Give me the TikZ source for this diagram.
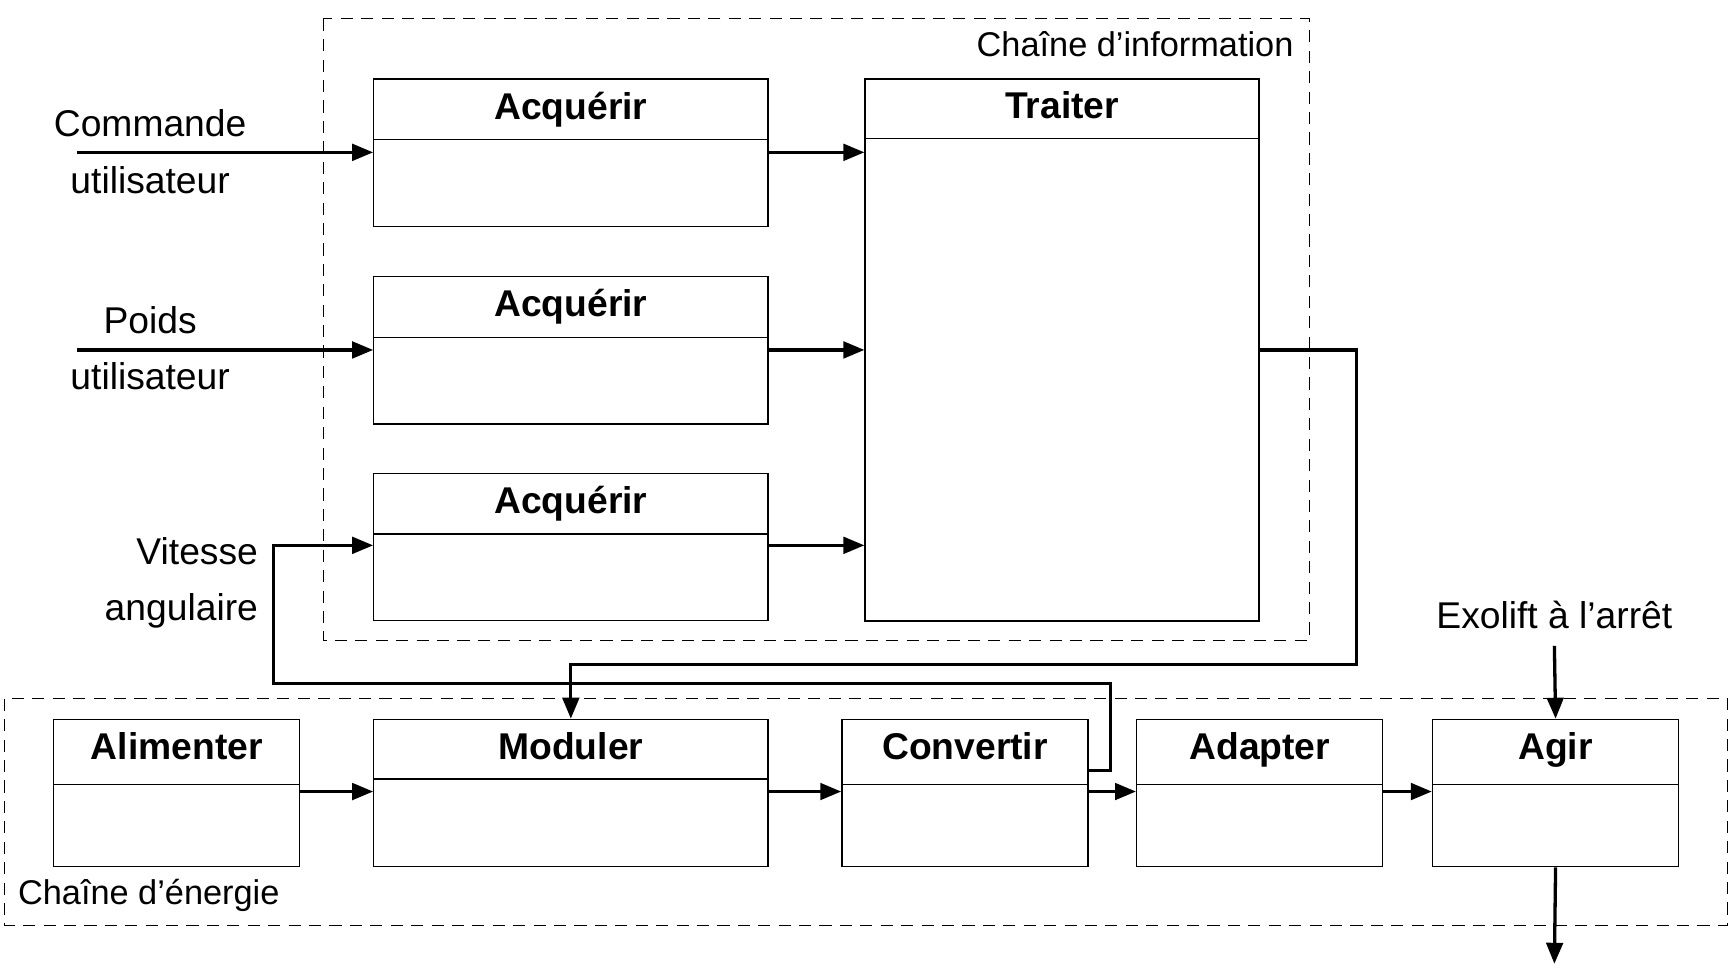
\documentclass[tikz,border=0pt]{standalone}
\usepackage{fontspec}
\setmainfont{Liberation Sans}
\usetikzlibrary{arrows.meta,positioning}

\begin{document}
\begin{tikzpicture}[
    x=0.02cm, y=-0.02cm,
    font=\fontsize{19.2}{23}\selectfont,
    fonction/.style={rectangle, draw=black, line width=0.7pt, inner sep=0pt, anchor=north west, minimum height=2.67cm},
    large/.style={minimum width=7.14cm},
    etroit/.style={minimum width=4.46cm},
    entete/.style={path picture={\draw[line width=0.7pt] ([yshift=-#1]path picture bounding box.north west) -- ([yshift=-#1]path picture bounding box.north east);}},
    titre/.style={font=\fontsize{19.2}{23}\selectfont\bfseries, anchor=base},
    texte/.style={anchor=base, inner sep=0pt},
    chaine/.style={draw=black, dash pattern=on 0.22cm off 0.15cm, line width=0.5pt},
    legende/.style={font=\fontsize{17.7}{21}\selectfont, inner sep=0pt},
    arrow/.style={line width=1.7pt, -{Triangle[length=0.38cm, width=0.3cm]}}
]
\useasboundingbox (0,0) rectangle (1568,876);

% Chains
\draw[chaine] (293,17) rectangle (1186,580);
\draw[chaine] (4,633) rectangle (1565,838);
\node[legende, anchor=base east] (ch-info) at (1172,51) {Chaîne d’information};
\node[legende, anchor=base west] (ch-energie) at (16,819) {Chaîne d’énergie};

% Nodes
\node[fonction, large, entete=1.1cm] (acq1) at (338,71) {};
\node[fonction, large, entete=1.1cm] (acq2) at (338,250) {};
\node[fonction, large, entete=1.1cm] (acq3) at (338,428) {};
\node[fonction, large, entete=1.08cm, minimum height=9.82cm] (traiter) at (783,71) {};
\node[fonction, etroit, entete=1.18cm] (alim) at (48,651) {};
\node[fonction, large, entete=1.08cm] (moduler) at (338,651) {};
\node[fonction, etroit, entete=1.18cm] (convertir) at (762,651) {};
\node[fonction, etroit, entete=1.18cm] (adapter) at (1029,651) {};
\node[fonction, etroit, entete=1.18cm] (agir) at (1297,651) {};

\node[titre] (t-acq1) at ([yshift=-0.74cm]acq1.north) {Acquérir};
\node[titre] (t-acq2) at ([yshift=-0.74cm]acq2.north) {Acquérir};
\node[titre] (t-acq3) at ([yshift=-0.74cm]acq3.north) {Acquérir};
\node[titre] (t-traiter) at ([yshift=-0.72cm]traiter.north) {Traiter};
\node[titre] (t-alim) at ([yshift=-0.74cm]alim.north) {Alimenter};
\node[titre] (t-moduler) at ([yshift=-0.74cm]moduler.north) {Moduler};
\node[titre] (t-convertir) at ([yshift=-0.74cm]convertir.north) {Convertir};
\node[titre] (t-adapter) at ([yshift=-0.74cm]adapter.north) {Adapter};
\node[titre] (t-agir) at ([yshift=-0.74cm]agir.north) {Agir};

% Inputs
\node[texte] (commande) at (136,124) {Commande};
\node[texte] (util1) at (136,175) {utilisateur};
\node[texte] (poids) at (136,302) {Poids};
\node[texte] (util2) at (136,353) {utilisateur};
\node[texte, anchor=base east] (vitesse) at (234,511) {Vitesse};
\node[texte, anchor=base east] (angulaire) at (234,562) {angulaire};
\node[texte] (exolift) at (1408,569) {Exolift à l’arrêt};

\coordinate (in1) at (70,138);
\coordinate (in2) at (70,317);
\coordinate (in3) at ([yshift=-1.32cm]acq3.north west);
\coordinate (sortie) at (1408,873);

% Arrows
\draw[arrow] (in1) -- (in1 -| acq1.west);
\draw[arrow] (in2) -- (in2 -| acq2.west);
\draw[arrow] ([yshift=-1.34cm]acq1.north east) -- ([yshift=-1.34cm]acq1.north east -| traiter.west);
\draw[arrow] ([yshift=-1.34cm]acq2.north east) -- ([yshift=-1.34cm]acq2.north east -| traiter.west);
\draw[arrow] ([yshift=-1.32cm]acq3.north east) -- ([yshift=-1.32cm]acq3.north east -| traiter.west);
\draw[arrow] ([yshift=-0.94cm]convertir.north east) -- ++(20,0) |- (248,619) |- (in3);
\draw[arrow] ([yshift=-4.92cm]traiter.north east) -| (1229,602) -| (moduler.north);
\draw[arrow] ([yshift=-1.32cm]alim.north east) -- ([yshift=-1.32cm]moduler.north west);
\draw[arrow] ([yshift=-1.32cm]moduler.north east) -- ([yshift=-1.32cm]convertir.north west);
\draw[arrow] ([yshift=-1.32cm]convertir.north east) -- ([yshift=-1.32cm]adapter.north west);
\draw[arrow] ([yshift=-1.32cm]adapter.north east) -- ([yshift=-1.32cm]agir.north west);
\draw[arrow] ([yshift=-0.32cm]exolift.base) -- (agir.north);
\draw[arrow] (agir.south) -- (sortie);

\end{tikzpicture}
\end{document}
